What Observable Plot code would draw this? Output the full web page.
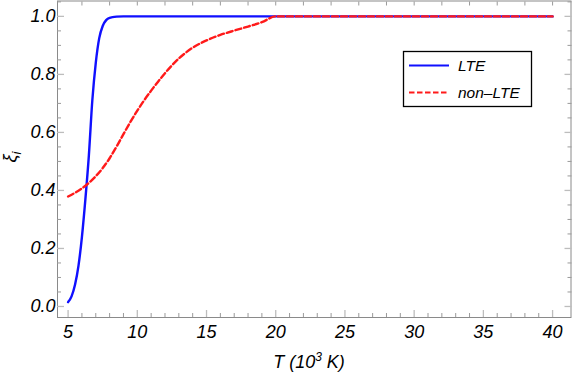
<!DOCTYPE html>
<html><head><meta charset="utf-8">
<script src="https://cdn.jsdelivr.net/npm/d3@7"></script>
<script src="https://cdn.jsdelivr.net/npm/@observablehq/plot@0.6"></script>
<style>body{margin:0;background:#fff} svg{display:block}</style>
</head><body><div id="chart"></div>
<script>
// LTE curve
const lteT  = [5, 5.25, 5.5, 5.75, 6, 6.25, 6.5, 6.75, 7, 7.25, 7.5, 7.75, 8, 8.5, 9, 10, 20, 30, 40];
const lteXi = [0.015, 0.035, 0.075, 0.14, 0.24, 0.37, 0.52, 0.71, 0.84, 0.925, 0.967, 0.987, 0.995, 0.999, 1, 1, 1, 1, 1];
// non-LTE curve
const nonT  = [5, 5.5, 6, 6.5, 7, 7.5, 8, 8.5, 9, 9.5, 10, 10.5, 11, 11.5, 12, 12.5, 13, 13.5, 14, 15, 16, 17, 18, 19, 20, 30, 40];
const nonXi = [0.379, 0.392, 0.407, 0.426, 0.449, 0.477, 0.511, 0.551, 0.594, 0.636, 0.675, 0.711, 0.744, 0.775, 0.804, 0.831, 0.855, 0.875, 0.892, 0.917, 0.936, 0.951, 0.965, 0.980, 1.0, 1.0, 1.0];
// ticks
const xMajor = [5, 10, 15, 20, 25, 30, 35, 40];
const xMinor = d3.range(5, 41, 1).filter(v => v % 5 !== 0);
const xTop = d3.range(6, 41, 2);
const yMajor = [0, 0.2, 0.4, 0.6, 0.8, 1.0];
const yMinor = d3.range(0, 1.051, 0.05).map(v => +v.toFixed(2)).filter(v => Math.round(v * 100) % 20 !== 0);
const seriesNames = ["LTE", "non\u2013LTE"];

const lte = lteT.map((t, i) => ({T: t, xi: lteXi[i]}));
const non = nonT.map((t, i) => ({T: t, xi: nonXi[i]}));

const FAM = "'Liberation Sans', Arial, sans-serif";

const plot = Plot.plot({
  width: 572,
  height: 374,
  marginLeft: 57,
  marginRight: 1.5,
  marginTop: 0.5,
  marginBottom: 57,
  style: {fontFamily: FAM, fontSize: "18px", fontStyle: "italic", color: "#000", background: "#fff"},
  x: {domain: [4.235, 41.33], label: null},
  y: {domain: [-0.038, 1.053], label: null},
  marks: [
    Plot.frame({stroke: "#8a8a8a", strokeWidth: 1}),
    // labels
    Plot.axisX(xMajor, {anchor: "bottom", label: null, tickSize: 0, tickPadding: 8, tickFormat: d => String(d), fill: "#000", fontSize: 18}),
    Plot.axisY(yMajor, {anchor: "left", label: null, tickSize: 0, tickPadding: 2, tickFormat: d => d.toFixed(1), fill: "#000", fontSize: 18}),
    // inward ticks
    Plot.axisX(xMajor, {anchor: "bottom", label: null, tickSize: -7, text: null, stroke: "#bdbdbd", strokeWidth: 1.3}),
    Plot.axisX(xMinor, {anchor: "bottom", label: null, tickSize: -4, text: null, stroke: "#9a9a9a", strokeWidth: 1}),
    Plot.axisX(xTop, {anchor: "top", label: null, tickSize: -4, text: null, stroke: "#9a9a9a", strokeWidth: 1}),
    Plot.axisY(yMajor, {anchor: "left", label: null, tickSize: -7, text: null, stroke: "#bdbdbd", strokeWidth: 1.3}),
    Plot.axisY(yMinor, {anchor: "left", label: null, tickSize: -4, text: null, stroke: "#9a9a9a", strokeWidth: 1}),
    Plot.axisY(yMajor, {anchor: "right", label: null, tickSize: -7, text: null, stroke: "#bdbdbd", strokeWidth: 1.3}),
    Plot.axisY(yMinor, {anchor: "right", label: null, tickSize: -4, text: null, stroke: "#9a9a9a", strokeWidth: 1}),
    Plot.line(lte, {x: "T", y: "xi", stroke: "#1010ff", strokeWidth: 2.4, curve: "monotone-x"}),
    Plot.line(non, {x: "T", y: "xi", stroke: "#ff1a1a", strokeWidth: 2.4, strokeDasharray: "6,3", curve: "monotone-x"})
  ]
});

const svg = d3.select(plot);
function styleText(sel, size) {
  return sel.attr("font-family", FAM).attr("font-size", size).attr("font-style", "italic").attr("fill", "#000");
}
// y label
const yl = styleText(svg.append("text"), 18)
  .attr("transform", "translate(16,157) rotate(-90)")
  .attr("text-anchor", "middle");
yl.append("tspan").text("\u03BE");
yl.append("tspan").attr("dy", 5).attr("font-size", 13).text("i");

// x label
const xl = styleText(svg.append("text"), 18)
  .attr("x", 309).attr("y", 368)
  .attr("text-anchor", "middle");
xl.append("tspan").text("T (10");
xl.append("tspan").attr("dy", -7).attr("font-size", 12).text("3");
xl.append("tspan").attr("dy", 7).text(" K)");

// legend
const lg = svg.append("g");
lg.append("rect").attr("x", 403.5).attr("y", 51.5).attr("width", 128).attr("height", 55)
  .attr("fill", "#fff").attr("stroke", "#000").attr("stroke-width", 1.3);
lg.append("line").attr("x1", 409).attr("x2", 449).attr("y1", 65.5).attr("y2", 65.5)
  .attr("stroke", "#1010ff").attr("stroke-width", 2);
lg.append("line").attr("x1", 409).attr("x2", 449).attr("y1", 92.5).attr("y2", 92.5)
  .attr("stroke", "#ff1a1a").attr("stroke-width", 2).attr("stroke-dasharray", "5.5,2.5");
styleText(lg.append("text"), 15.5).attr("x", 458).attr("y", 70.5).attr("text-anchor", "start").text(seriesNames[0]);
styleText(lg.append("text"), 15.5).attr("x", 458).attr("y", 97.5).attr("text-anchor", "start").text(seriesNames[1]);

document.getElementById("chart").appendChild(plot);
</script>
</body></html>
